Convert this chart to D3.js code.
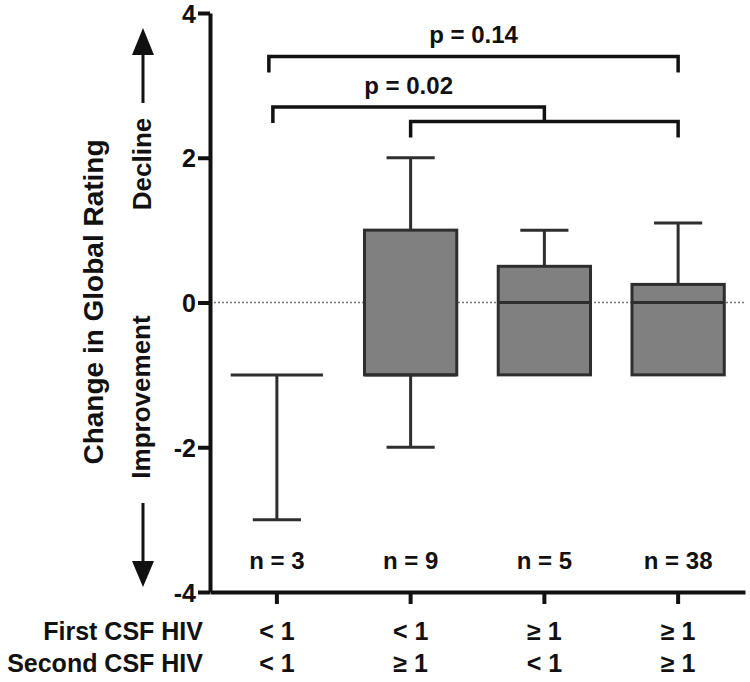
<!DOCTYPE html>
<html><head><meta charset="utf-8">
<script src="https://cdn.jsdelivr.net/npm/d3@7"></script>
<style>
body{margin:0;background:#fff}
text{font-family:"Liberation Sans",Arial,sans-serif;font-weight:bold;fill:#111}
</style>
</head><body><svg id="c" width="750" height="682"></svg>
<script>
// ---- data ----
const groups = ["G1","G2","G3","G4"];
const firstCSF = ["< 1","< 1","≥ 1","≥ 1"];
const secondCSF = ["< 1","≥ 1","< 1","≥ 1"];
const nLabels = ["n = 3","n = 9","n = 5","n = 38"];
const whiskerMin = [-3,-2,-1,-1];
const q1 = [-1,-1,-1,-1];
const median = [-1,-1,0,0];
const q3 = [-1,1,0.5,0.25];
const whiskerMax = [-1,2,1,1.1];
const yTicks = [-4,-2,0,2,4];
const rowLabels = ["First CSF HIV","Second CSF HIV"];
// brackets
const bracketLabels = ["p = 0.14","p = 0.02",""];
const bracketFrom = [0,0,1];
const bracketTo = [3,"sub",3];
const bracketLevel = [3.4,2.7,2.5];

const svg = d3.select("#c");
const x = d3.scaleBand().domain(groups).range([210,745]).padding(0);
const y = d3.scaleLinear().domain([-4,4]).range([592,13]);
const cx = i => x(groups[i]) + x.bandwidth()/2;
const boxW = x.bandwidth()*0.69;
const capW = x.bandwidth()*0.36;
const dark = "#2e2e2e";

// zero dotted line
svg.append("line").attr("x1",210).attr("x2",745).attr("y1",y(0)).attr("y2",y(0))
  .attr("stroke","#777").attr("stroke-width",1.3).attr("stroke-dasharray","2,2");

// boxes
const g = svg.append("g");
groups.forEach((k,i)=>{
  const c = cx(i);
  // whiskers
  g.append("line").attr("x1",c).attr("x2",c).attr("y1",y(q3[i])).attr("y2",y(whiskerMax[i]))
    .attr("stroke",dark).attr("stroke-width",3);
  g.append("line").attr("x1",c).attr("x2",c).attr("y1",y(q1[i])).attr("y2",y(whiskerMin[i]))
    .attr("stroke",dark).attr("stroke-width",3);
  [whiskerMax[i],whiskerMin[i]].forEach(v=>{
    if (v!==q3[i] && v!==q1[i])
      g.append("line").attr("x1",c-capW/2).attr("x2",c+capW/2).attr("y1",y(v)).attr("y2",y(v))
        .attr("stroke",dark).attr("stroke-width",3);
  });
  g.append("rect").attr("x",c-boxW/2).attr("width",boxW)
    .attr("y",y(q3[i])).attr("height",y(q1[i])-y(q3[i]))
    .attr("fill","#808080").attr("stroke",dark).attr("stroke-width",3);
  g.append("line").attr("x1",c-boxW/2).attr("x2",c+boxW/2).attr("y1",y(median[i])).attr("y2",y(median[i]))
    .attr("stroke",dark).attr("stroke-width",3);
});

// axes
const yAxis = svg.append("g").attr("transform","translate(210,0)")
  .call(d3.axisLeft(y).tickValues(yTicks).tickFormat(d=>String(d)).tickSize(12).tickSizeOuter(0).tickPadding(2));
yAxis.selectAll("path,line").attr("stroke","#111").attr("stroke-width",4);
yAxis.selectAll("text").style("font-size","25px").attr("dy","0.36em");

const xAxis = svg.append("g").attr("transform","translate(0,592)")
  .call(d3.axisBottom(x).tickFormat("").tickSize(12).tickSizeOuter(0));
xAxis.selectAll("path,line").attr("stroke","#111").attr("stroke-width",4);

// n labels
svg.selectAll(".n").data(nLabels).join("text").attr("class","n")
  .attr("x",(d,i)=>cx(i)).attr("y",569).attr("text-anchor","middle").style("font-size","24px").text(d=>d);

// category rows
[firstCSF,secondCSF].forEach((arr,r)=>{
  const by = r===0 ? 640 : 672;
  svg.append("text").attr("x",203).attr("y",by).attr("text-anchor","end").style("font-size","25px").text(rowLabels[r]);
  svg.selectAll(".row"+r).data(arr).join("text").attr("class","row"+r)
    .attr("x",(d,i)=>cx(i)).attr("y",by).attr("text-anchor","middle").style("font-size","25px").text(d=>d);
});

// y title
svg.append("text").attr("transform","translate(103,302) rotate(-90)").attr("text-anchor","middle")
  .style("font-size","28px").text("Change in Global Rating");
svg.append("text").attr("transform","translate(151,164) rotate(-90)").attr("text-anchor","middle")
  .style("font-size","26px").text("Decline");
svg.append("text").attr("transform","translate(150,397) rotate(-90)").attr("text-anchor","middle")
  .style("font-size","26px").text("Improvement");
// arrows
const ax = 143;
svg.append("line").attr("x1",ax).attr("x2",ax).attr("y1",103).attr("y2",50).attr("stroke","#111").attr("stroke-width",3);
svg.append("path").attr("d",`M${ax},28L${ax-11},55L${ax+11},55Z`).attr("fill","#111");
svg.append("line").attr("x1",ax).attr("x2",ax).attr("y1",503).attr("y2",565).attr("stroke","#111").attr("stroke-width",3);
svg.append("path").attr("d",`M${ax},587L${ax-11},561L${ax+11},561Z`).attr("fill","#111");

// brackets
const legDrop = 16;
const bx = [];
bracketFrom.forEach((f,i)=>{ bx[i] = [cx(f), 0]; });
bx[2][1] = cx(bracketTo[2]);
bx[0][0] = cx(0)-8; bx[0][1] = cx(bracketTo[0]);
bx[1][0] = cx(0)-4; bx[1][1] = (bx[2][0]+bx[2][1])/2;
[0,2,1].forEach(i=>{
  const yl = y(bracketLevel[i]);
  const [x1,x2] = bx[i];
  let d;
  if (bracketTo[i]==="sub") d = `M${x1},${yl+legDrop}V${yl}H${x2}V${y(bracketLevel[2])}`;
  else d = `M${x1},${yl+legDrop}V${yl}H${x2}V${yl+legDrop}`;
  svg.append("path").attr("d",d).attr("fill","none").attr("stroke","#111").attr("stroke-width",3.5);
  if (bracketLabels[i])
    svg.append("text").attr("x",(x1+x2)/2).attr("y",yl-13).attr("text-anchor","middle")
      .style("font-size","24px").text(bracketLabels[i]);
});
</script></body></html>
